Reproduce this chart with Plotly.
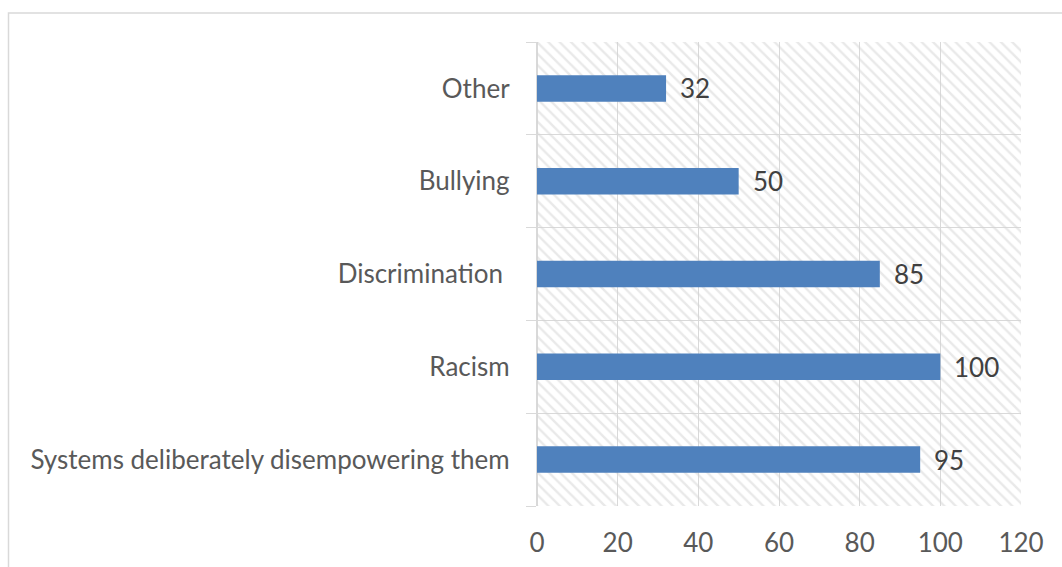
import plotly.graph_objects as go

# Categories listed bottom-to-top, as they stack on the y axis
categories = [
    "Systems deliberately disempowering them",
    "Racism",
    "Discrimination ",
    "Bullying",
    "Other",
]
counts = [95, 100, 85, 50, 32]
x_ticks = [0, 20, 40, 60, 80, 100, 120]

W, H = 1062, 567
L, R, T, B = 537, 41, 42, 61
FONT = "Lato, 'Open Sans', sans-serif"
FS = 26
GRID = "#d9d9d9"

fig = go.Figure()

# Hatched plot-area background, one full-width band per category
fig.add_trace(go.Bar(
    y=categories,
    x=[x_ticks[-1]] * len(categories),
    orientation="h",
    width=1,
    marker=dict(
        color="rgba(0,0,0,0)",
        line=dict(width=0),
        pattern=dict(shape="\\", size=8, solidity=0.3,
                     fgcolor="#d3d3d3", fillmode="overlay"),
    ),
    hoverinfo="skip",
    showlegend=False,
))

# Data bars
fig.add_trace(go.Bar(
    y=categories,
    x=counts,
    orientation="h",
    width=0.286,
    marker=dict(color="#4f81bd", line=dict(width=0)),
    showlegend=False,
))

# Value labels to the right of each bar
for cat, v in zip(categories, counts):
    fig.add_annotation(
        x=v, y=cat, text=str(v), showarrow=False,
        xanchor="left", yanchor="middle", xshift=12,
        font=dict(family=FONT, size=FS, color="#404040"),
    )

# Outer chart frame (left and top edges)
fx = (8.5 - L) / (W - L - R)
fy = 1 + (T - 13) / (H - T - B)
fig.add_shape(
    type="path", xref="paper", yref="paper",
    path=f"M {fx} -0.5 L {fx} {fy} L 1.2 {fy}",
    line=dict(color=GRID, width=1.5),
)

fig.update_layout(
    width=W, height=H,
    margin=dict(l=L, r=R, t=T, b=B),
    barmode="overlay",
    plot_bgcolor="white",
    paper_bgcolor="white",
    font=dict(family=FONT, size=FS, color="#595959"),
)
fig.update_xaxes(
    range=[0, 120], tickvals=x_ticks,
    showgrid=True, gridcolor=GRID, gridwidth=1.3,
    zeroline=True, zerolinecolor=GRID, zerolinewidth=1.3,
    showline=False, ticks="", ticklabelstandoff=19,
    tickfont=dict(family=FONT, size=FS, color="#595959"),
    automargin=False, fixedrange=True,
)
fig.update_yaxes(
    type="category", categoryorder="array", categoryarray=categories,
    range=[-0.5, len(categories) - 0.5],
    tickson="boundaries", showgrid=True, gridcolor=GRID, gridwidth=1.3,
    ticks="outside", ticklen=10, tickcolor=GRID, tickwidth=1.3,
    showline=True, linecolor=GRID, linewidth=1.3,
    ticklabelstandoff=21,
    tickfont=dict(family=FONT, size=FS, color="#595959"),
    automargin=False, fixedrange=True,
)

fig.write_html("out.html")
